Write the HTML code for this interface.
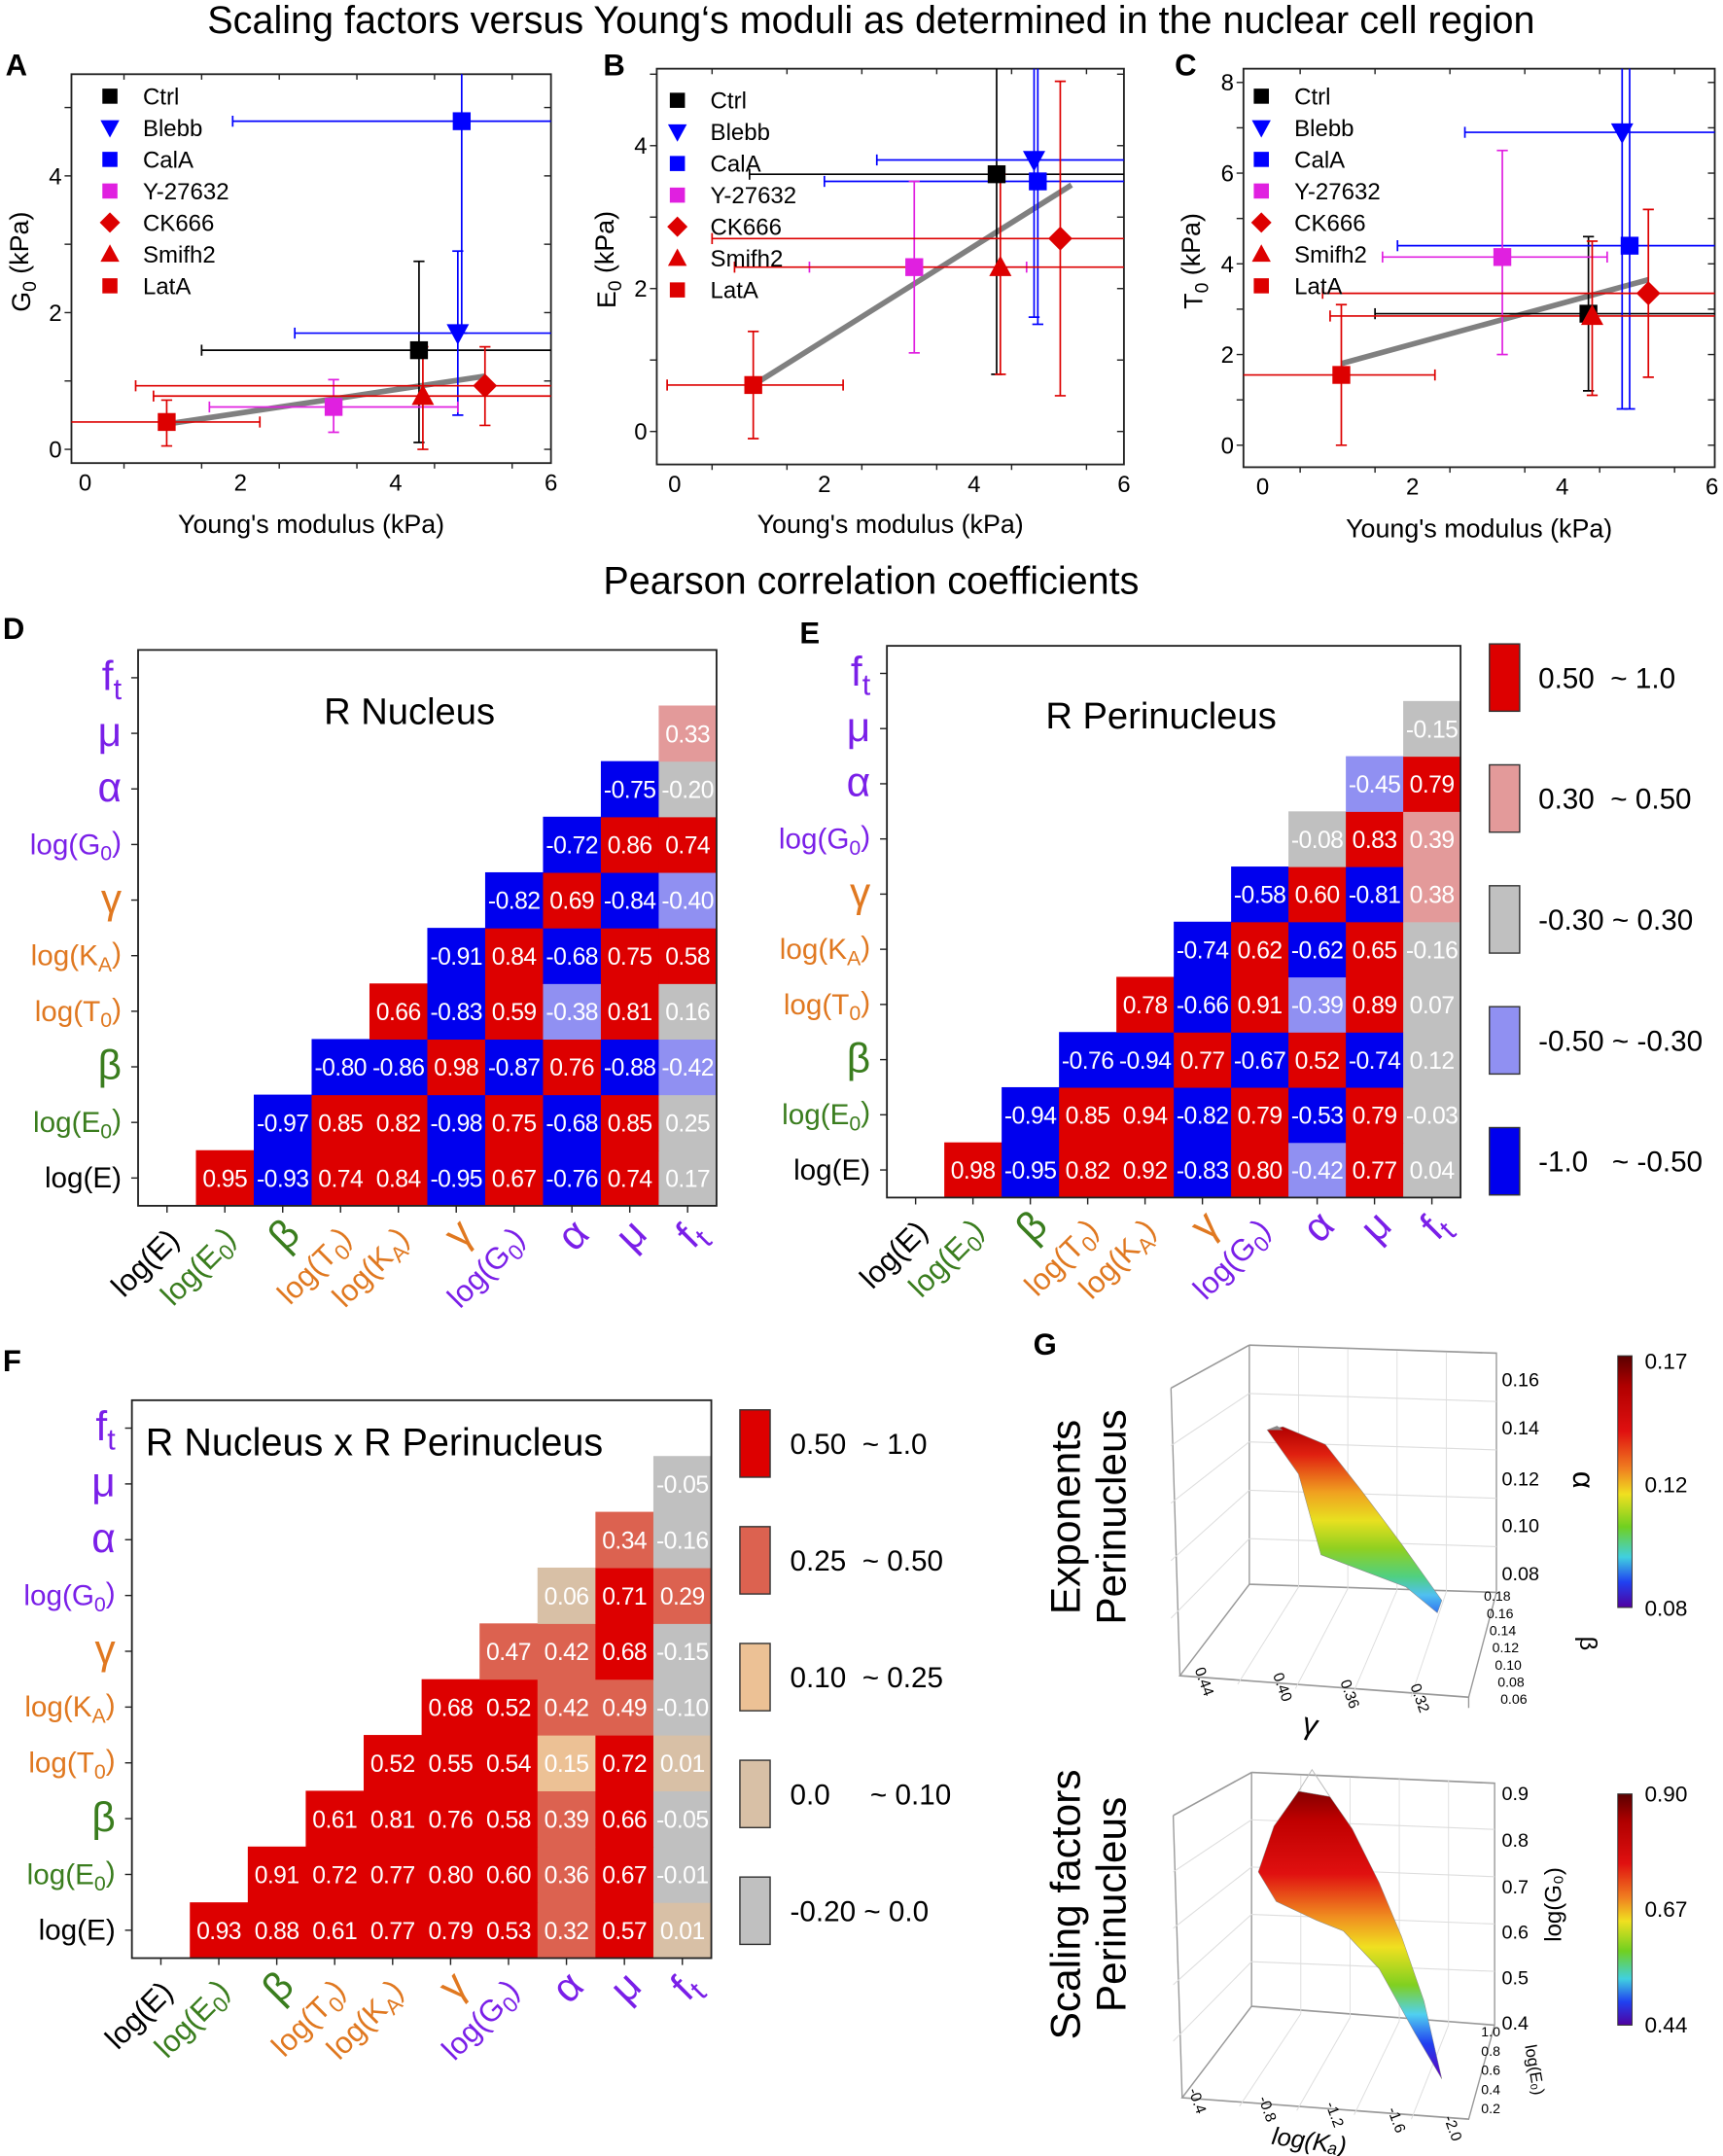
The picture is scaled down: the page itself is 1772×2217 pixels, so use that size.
<!DOCTYPE html>
<html><head><meta charset="utf-8">
<style>
html,body{margin:0;padding:0;background:#fff;}
svg{display:block;font-family:"Liberation Sans",Arial,sans-serif;}
</style></head>
<body>
<svg id="fig" xmlns="http://www.w3.org/2000/svg" width="1772" height="2217" viewBox="0 0 1254 1569" preserveAspectRatio="none">
<rect width="1254" height="1569" fill="#fff"/>
<text x="634" y="24" font-size="28" text-anchor="middle">Scaling factors versus Young‘s moduli as determined in the nuclear cell region</text>
<text x="634" y="432" font-size="28" text-anchor="middle">Pearson correlation coefficients</text>
<text x="4" y="55" font-size="22" font-weight="bold">A</text>
<text x="439" y="55" font-size="22" font-weight="bold">B</text>
<text x="855" y="55" font-size="22" font-weight="bold">C</text>
<text x="2" y="465" font-size="22" font-weight="bold">D</text>
<text x="582" y="468" font-size="22" font-weight="bold">E</text>
<text x="2" y="998" font-size="22" font-weight="bold">F</text>
<text x="752" y="986" font-size="22" font-weight="bold">G</text>
</svg>
<script>
// ---------- data: scatter panels ----------
const groups = ['Ctrl','Blebb','CalA','Y-27632','CK666','Smifh2','LatA'];
const xTicks = [0,2,4,6];
const aX   = [4.3,4.8,4.85,3.2,5.15,4.35,1.05];
const aY   = [1.45,1.7,4.8,0.62,0.93,0.78,0.4];
const aXlo = [1.5,2.7,1.9,1.6,0.65,0.88,-0.2];
const aXhi = [7,7,7,4.8,7,7,2.25];
const aYlo = [0.1,0.5,1.7,0.25,0.35,0,0.05];
const aYhi = [2.75,2.9,6,1.02,1.5,1.5,0.72];
const aFit = [1.05,0.37,5.15,1.07];
const aYTicks = [0,2,4];
const bX   = [4.3,4.8,4.85,3.2,5.15,4.35,1.05];
const bY   = [3.6,3.8,3.5,2.3,2.7,2.3,0.65];
const bXlo = [1.0,2.7,2.0,1.8,0.5,0.8,-0.1];
const bXhi = [7,7,7,4.7,7,7,2.25];
const bYlo = [0.8,1.6,1.5,1.1,0.5,0.8,-0.1];
const bYhi = [5.6,5.6,5.6,3.5,4.9,3.6,1.4];
const bFit = [1.05,0.65,5.3,3.45];
const bYTicks = [0,2,4];
const cX   = [4.35,4.8,4.9,3.2,5.15,4.4,1.05];
const cY   = [2.9,6.9,4.4,4.15,3.35,2.85,1.55];
const cXlo = [1.5,2.7,1.8,1.6,0.8,0.9,-0.3];
const cXhi = [7,7,7,4.6,7,7,2.3];
const cYlo = [1.2,0.8,0.8,2.0,1.5,1.1,0];
const cYhi = [4.6,9,9,6.5,5.2,4.5,3.1];
const cFit = [1.05,1.8,5.15,3.65];
const cYTicks = [0,2,4,6,8];

// ---------- data: correlation matrices ----------
const varLabels = ['log(E)','log(E_0)','β','log(T_0)','log(K_A)','γ','log(G_0)','α','μ','f_t'];
const dRows = [
 [0.95,-0.93,0.74,0.84,-0.95,0.67,-0.76,0.74,0.17],
 [-0.97,0.85,0.82,-0.98,0.75,-0.68,0.85,0.25],
 [-0.80,-0.86,0.98,-0.87,0.76,-0.88,-0.42],
 [0.66,-0.83,0.59,-0.38,0.81,0.16],
 [-0.91,0.84,-0.68,0.75,0.58],
 [-0.82,0.69,-0.84,-0.40],
 [-0.72,0.86,0.74],
 [-0.75,-0.20],
 [0.33]];
const eRows = [
 [0.98,-0.95,0.82,0.92,-0.83,0.80,-0.42,0.77,0.04],
 [-0.94,0.85,0.94,-0.82,0.79,-0.53,0.79,-0.03],
 [-0.76,-0.94,0.77,-0.67,0.52,-0.74,0.12],
 [0.78,-0.66,0.91,-0.39,0.89,0.07],
 [-0.74,0.62,-0.62,0.65,-0.16],
 [-0.58,0.60,-0.81,0.38],
 [-0.08,0.83,0.39],
 [-0.45,0.79],
 [-0.15]];
const fRows = [
 [0.93,0.88,0.61,0.77,0.79,0.53,0.32,0.57,0.01],
 [0.91,0.72,0.77,0.80,0.60,0.36,0.67,-0.01],
 [0.61,0.81,0.76,0.58,0.39,0.66,-0.05],
 [0.52,0.55,0.54,0.15,0.72,0.01],
 [0.68,0.52,0.42,0.49,-0.10],
 [0.47,0.42,0.68,-0.15],
 [0.06,0.71,0.29],
 [0.34,-0.16],
 [-0.05]];
const deLegend = ['0.50  ~ 1.0','0.30  ~ 0.50','-0.30 ~ 0.30','-0.50 ~ -0.30','-1.0   ~ -0.50'];
const fLegend  = ['0.50  ~ 1.0','0.25  ~ 0.50','0.10  ~ 0.25','0.0     ~ 0.10','-0.20 ~ 0.0'];

// ---------- helpers ----------
const NS='http://www.w3.org/2000/svg';
const svg=document.getElementById('fig');
function mk(tag,parent){const e=document.createElementNS(NS,tag);(parent||svg).appendChild(e);return e;}
function at(e,o){for(const k in o)e.setAttribute(k,o[k]);return e;}
function richText(e,s){
  const parts=s.split(/_(\w)/);
  parts.forEach((p,i)=>{ if(!p) return; const t=mk('tspan',e); t.textContent=p;
    if(i%2===1){at(t,{'font-size':'0.72em',dy:'0.3em'});} else if(i>1){at(t,{dy:'-0.3em'});} });
}
const gColors=['#000','#0000ff','#0000ff','#e020e0','#dd0000','#dd0000','#dd0000'];
const gShapes=['sq','tdown','sq','sq','dia','tup','sq'];
function marker(g,shape,x,y,col,s){
  let e;
  if(shape==='sq'){e=mk('rect',g);at(e,{x:x-s,y:y-s,width:2*s,height:2*s,fill:col});}
  else if(shape==='dia'){e=mk('polygon',g);at(e,{points:`${x},${y-s*1.35} ${x+s*1.35},${y} ${x},${y+s*1.35} ${x-s*1.35},${y}`,fill:col});}
  else if(shape==='tup'){e=mk('polygon',g);at(e,{points:`${x},${y-s*1.3} ${x+s*1.25},${y+s} ${x-s*1.25},${y+s}`,fill:col});}
  else {e=mk('polygon',g);at(e,{points:`${x},${y+s*1.3} ${x+s*1.25},${y-s} ${x-s*1.25},${y-s}`,fill:col});}
  return e;
}

// ---------- scatter panels ----------
function scatter(id,box,xm,ym,yTicks,X,Y,XL,XH,YL,YH,FIT,ytitle,legPos,xtY){
  const g=mk('g');
  
  
  const sx=v=>xm.a+v*xm.k, sy=v=>ym.a-v*ym.k;
  const cid='clip'+id; const cp=mk('clipPath',g); cp.setAttribute('id',cid);
  at(mk('rect',cp),{x:box[0],y:box[1],width:box[2]-box[0],height:box[3]-box[1]});
  const fr=mk('rect',g); at(fr,{x:box[0],y:box[1],width:box[2]-box[0],height:box[3]-box[1],fill:'none',stroke:'#222','stroke-width':1.3});
  
  
  for(let v=-0.5;v<=6.01;v+=1){const x=sx(v); if(x<box[0]||x>box[2])continue; const maj=Math.abs(v-Math.round(v/2)*2)<1e-6; const L=maj?6:4;
    at(mk('line',g),{x1:x,x2:x,y1:box[3],y2:box[3]+L,stroke:'#222'}); at(mk('line',g),{x1:x,x2:x,y1:box[1],y2:box[1]+L,stroke:'#222'});}
  xTicks.forEach(v=>{const t=mk('text',g);at(t,{x:sx(v),y:box[3]+20,'font-size':17,'text-anchor':'middle'});t.textContent=v;
    
    });
  const step=yTicks[1]-yTicks[0];
  for(let v=yTicks[0]-step/2;v<=yTicks[yTicks.length-1]+step;v+=step/2){const y=sy(v); if(y<box[1]||y>box[3])continue;
    at(mk('line',g),{x1:box[0]-5,x2:box[0],y1:y,y2:y,stroke:'#222'}); at(mk('line',g),{x1:box[2]-5,x2:box[2],y1:y,y2:y,stroke:'#222'});}
  yTicks.forEach(v=>{const t=mk('text',g);at(t,{x:box[0]-7,y:sy(v)+6,'font-size':17,'text-anchor':'end'});t.textContent=v;
    
    });
  const xt=mk('text',g);at(xt,{x:(box[0]+box[2])/2,y:xtY,'font-size':19,'text-anchor':'middle'});xt.textContent="Young's modulus (kPa)";
  
  
  const cy=(box[1]+box[3])/2; const yt=mk('text',g);at(yt,{x:0,y:0,'font-size':19,'text-anchor':'middle',transform:`translate(${box[0]-30},${cy-5}) rotate(-90)`});richText(yt,ytitle);
  
  
  const dg=mk('g',g); dg.setAttribute('clip-path',`url(#${cid})`);
  const fl=mk('line',dg);at(fl,{x1:sx(FIT[0]),y1:sy(FIT[1]),x2:sx(FIT[2]),y2:sy(FIT[3]),stroke:'#808080','stroke-width':4});
  
  
  groups.forEach((nm,i)=>{
    const c=gColors[i]; const px=sx(X[i]), py=sy(Y[i]);
    const eb=mk('g',dg); eb.setAttribute('stroke',c); eb.setAttribute('stroke-width',1.2);
    
    
    at(mk('line',eb),{x1:sx(XL[i]),x2:sx(XH[i]),y1:py,y2:py});
    at(mk('line',eb),{x1:px,x2:px,y1:sy(YL[i]),y2:sy(YH[i])});
    [XL[i],XH[i]].forEach(v=>at(mk('line',eb),{x1:sx(v),x2:sx(v),y1:py-4,y2:py+4}));
    [YL[i],YH[i]].forEach(v=>at(mk('line',eb),{x1:px-4,x2:px+4,y1:sy(v),y2:sy(v)}));
  });
  groups.forEach((nm,i)=>{
    const m=marker(dg,gShapes[i],sx(X[i]),sy(Y[i]),gColors[i],6.5);
    
    
  });
  groups.forEach((nm,i)=>{
    const ly=legPos[1]+i*23;
    const lg=mk('g',g);
    
    
    marker(lg,gShapes[i],legPos[0],ly,gColors[i],5.5);
    const t=mk('text',lg);at(t,{x:legPos[0]+24,y:ly+6,'font-size':17});t.textContent=nm;
  });
}
scatter('a',[52,54,401,337],{a:62,k:56.5},{a:327,k:49.75},aYTicks,aX,aY,aXlo,aXhi,aYlo,aYhi,aFit,'G_0 (kPa)',[80,70],388);
scatter('b',[478,50,818,338],{a:491,k:54.5},{a:314,k:52},bYTicks,bX,bY,bXlo,bXhi,bYlo,bYhi,bFit,'E_0 (kPa)',[493,73],388);
scatter('c',[905,50,1248,340],{a:919,k:54.5},{a:324,k:33},cYTicks,cX,cY,cXlo,cXhi,cYlo,cYhi,cFit,'T_0 (kPa)',[918,70],391);

// ---------- heatmaps ----------
const labColors=['#000','#3a7d1e','#3a7d1e','#e07820','#e07820','#e07820','#7a1fe8','#7a1fe8','#7a1fe8','#7a1fe8'];
const greek={'β':1,'γ':1,'α':1,'μ':1,'f_t':1};
function colDE(v){ if(v>=0.5)return '#dd0000'; if(v>=0.3)return '#e39a9a'; if(v>-0.3)return '#c0c0c0'; if(v>-0.5)return '#9090f2'; return '#0000ee'; }
function colF(v){ if(v>=0.5)return '#dd0000'; if(v>=0.25)return '#dc6250'; if(v>=0.1)return '#ecc195'; if(v>=0)return '#d8c0a6'; return '#c0c0c0'; }
function heat(id,box,rows,colfn,title,tpos,tsize){
  const g=mk('g');
  
  
  const cw=(box[2]-box[0])/10, rh=(box[3]-box[1])/10;
  const cx=c=>box[0]+cw*(c+0.5), cy=r=>box[3]-rh*(r+0.5);
  rows.forEach((vals,r)=>vals.forEach((v,j)=>{
    const c=r+1+j;
    const cell=mk('rect',g);at(cell,{x:cx(c)-cw/2,y:cy(r)-rh/2,width:cw+0.4,height:rh+0.4,fill:colfn(v)});
    
    
    const t=mk('text',g);at(t,{x:cx(c),y:cy(r)+6.5,'font-size':17.5,'text-anchor':'middle',fill:'#fff','letter-spacing':'-0.4'});
    t.textContent=v.toFixed(2);
    
    
  }));
  const fr=mk('rect',g);at(fr,{x:box[0],y:box[1],width:box[2]-box[0],height:box[3]-box[1],fill:'none',stroke:'#222','stroke-width':1.3});
  
  
  const tt=mk('text',g);at(tt,{x:tpos[0],y:tpos[1],'font-size':tsize,'text-anchor':tpos[2]});tt.textContent=title;
  
  
  varLabels.forEach((lab,i)=>{
    const isG=greek[lab];
    at(mk('line',g),{x1:box[0]-5,x2:box[0],y1:cy(i),y2:cy(i),stroke:'#222'});
    at(mk('line',g),{x1:cx(i),x2:cx(i),y1:box[3],y2:box[3]+5,stroke:'#222'});
    const yl=mk('text',g);at(yl,{x:box[0]-12,y:cy(i)+(isG?9:7),'font-size':isG?30:21,'text-anchor':'end',fill:labColors[i]});richText(yl,lab);
    
    
    const xl=mk('text',g);at(xl,{x:0,y:0,'font-size':isG?30:22,'text-anchor':'end',fill:labColors[i],transform:`translate(${cx(i)+(isG?14:10)},${box[3]+(isG?22:26)}) rotate(-45)`});richText(xl,lab);
    
    
  });
}
heat('d',[100.5,473,521.5,877.5],dRows,colDE,'R Nucleus',[298,527,'middle'],27);
heat('e',[645.5,470,1063,871.5],eRows,colDE,'R Perinucleus',[845,530,'middle'],27);
heat('f',[96,1019,517.7,1425],fRows,colF,'R Nucleus x R Perinucleus',[106,1059,'start'],28);

function legend(id,x,y0,step,labels,cols,tx){
  labels.forEach((l,i)=>{
    const g=mk('g');
    
    
    at(mk('rect',g),{x:x,y:y0+i*step,width:22,height:49,fill:cols[i],stroke:'#333','stroke-width':1});
    const t=mk('text',g);at(t,{x:tx,y:y0+i*step+32,'font-size':21,style:'white-space:pre'});t.textContent=l;
  });
}
legend('e',1084,468.6,88,deLegend,['#dd0000','#e39a9a','#c0c0c0','#9090f2','#0000ee'],1119.6);
legend('f',538.5,1026,85,fLegend,['#dd0000','#dc6250','#ecc195','#d8c0a6','#c0c0c0'],575);
</script>
<script>
// ---------- panel G (3D surfaces, approximate) ----------
(function(){
  const svg=document.getElementById('fig'); const NS='http://www.w3.org/2000/svg';
  function mk(tag,p){const e=document.createElementNS(NS,tag);(p||svg).appendChild(e);return e;}
  function at(e,o){for(const k in o)e.setAttribute(k,o[k]);return e;}
  const defs=mk('defs');
  function grad(id,stops,y1,y2){const g=mk('linearGradient',defs);at(g,{id:id,x1:0,y1:y1,x2:0,y2:y2,gradientUnits:'userSpaceOnUse'});
    stops.forEach(s=>at(mk('stop',g),{offset:s[0],'stop-color':s[1]}));}
  const rainbow=[[0,'#5a0000'],[0.12,'#b00000'],[0.3,'#e01010'],[0.45,'#f08020'],[0.55,'#f0e020'],[0.68,'#70d020'],[0.8,'#40d0e0'],[0.9,'#2040f0'],[1,'#5000a0']];
  grad('gsurf1',[[0,'#b00000'],[0.15,'#e02010'],[0.35,'#f0a020'],[0.5,'#e8e020'],[0.65,'#90d020'],[0.8,'#50d080'],[0.9,'#50c0f0'],[1,'#3070f0']],212,560);
  grad('gsurf2',[[0,'#7a0000'],[0.12,'#c00000'],[0.3,'#e01010'],[0.45,'#f09020'],[0.55,'#f0e020'],[0.68,'#80d020'],[0.78,'#50d0f0'],[0.88,'#2040f0'],[1,'#6000c0']],880,1425);
  grad('cb1',rainbow,80,548); grad('cb2',rainbow,895,1325);
  const g=mk('g'); g.setAttribute('transform','translate(743.1,955.4) scale(0.3258,0.3912)');
  
  
  function ln(pts,col,w){at(mk('polyline',g),{points:pts,fill:'none',stroke:col||'#999','stroke-width':w||3});}
  ln('510,60 1062,75 1062,520');ln('510,60 510,505 1062,520');ln('510,505 355,675 1000,715 1062,520');ln('335,140 510,60');ln('335,140 355,675');ln('1000,715 1000,735');
  for(let i=1;i<5;i++){const x=510+i*110;ln(`${x},${62+i*3} ${x},${507+i*3}`,'#ddd',2);ln(`${x},${507+i*3} ${355+i*129},${683+i*8}`,'#ddd',2);}
  for(let i=1;i<5;i++){const y=60+i*90;ln(`510,${y} 1062,${y+15}`,'#ddd',2);ln(`335,${140+i*107} 510,${y}`,'#ddd',2);}
  ln('515,855 1058,875 1058,1325');ln('515,855 515,1290 1058,1325');ln('515,1290 360,1460 1000,1500 1058,1325');ln('340,935 515,855');ln('340,935 360,1460');
  for(let i=1;i<5;i++){const x=515+i*110;ln(`${x},${858+i*3} ${x},${1297+i*7}`,'#ddd',2);ln(`${x},${1297+i*7} ${360+i*128},${1468+i*8}`,'#ddd',2);}
  for(let i=1;i<5;i++){const y=855+i*88;ln(`515,${y} 1058,${y+18}`,'#ddd',2);ln(`340,${935+i*105} 515,${y}`,'#ddd',2);}
  const s1=mk('polygon',g);at(s1,{points:'550,218 585,212 680,245 760,330 850,430 940,535 930,558 860,510 670,450 620,300',fill:'url(#gsurf1)',stroke:'#888','stroke-width':1});
  
  
  at(mk('polygon',g),{points:'548,218 572,210 585,218',fill:'#888'});
  const s2=mk('polygon',g);at(s2,{points:'530,1040 565,955 620,890 690,900 740,960 800,1060 850,1160 900,1280 940,1425 880,1340 800,1220 720,1150 660,1130 570,1095',fill:'url(#gsurf2)',stroke:'#888','stroke-width':1});
  
  
  ln('620,890 650,850 690,900','#bbb',2);
  const c1=mk('rect',g);at(c1,{x:1333,y:80,width:32,height:468,fill:'url(#cb1)',stroke:'#333','stroke-width':2});
  
  
  const c2=mk('rect',g);at(c2,{x:1333,y:895,width:32,height:430,fill:'url(#cb2)',stroke:'#333','stroke-width':2});
  
  
  function tx(x,y,s,str,fs,extra,name){const t=mk('text');at(t,Object.assign({x:x,y:y,'font-size':fs},extra||{}));t.textContent=str;
    
    return t;}
  tx(0,0,0,'Exponents',30,{'text-anchor':'middle',transform:'translate(786,1104) rotate(-90)'},'g-top-title-1');
  tx(0,0,0,'Perinucleus',30,{'text-anchor':'middle',transform:'translate(819,1104) rotate(-90)'},'g-top-title-2');
  tx(0,0,0,'Scaling factors',30,{'text-anchor':'middle',transform:'translate(786,1386) rotate(-90)'},'g-bottom-title-1');
  tx(0,0,0,'Perinucleus',30,{'text-anchor':'middle',transform:'translate(819,1386) rotate(-90)'},'g-bottom-title-2');
  [['0.16',1009],['0.14',1044],['0.12',1081],['0.10',1115],['0.08',1150]].forEach(a=>tx(1093,a[1],0,a[0],14,{},'alpha-tick-label'));
  tx(0,0,0,'α',22,{'text-anchor':'middle',transform:'translate(1145,1077) rotate(90)'},'alpha-axis-title');
  ['0.18','0.16','0.14','0.12','0.10','0.08','0.06'].forEach((s,i)=>tx(1080+i*2,1165+i*12.5,0,s,10,{},'beta-tick-label'));
  tx(0,0,0,'β',18,{'text-anchor':'middle',transform:'translate(1150,1196) rotate(90)'},'beta-axis-title');
  [['0.44',873,1225],['0.40',930,1229],['0.36',979,1234],['0.32',1030,1237]].forEach(a=>tx(0,0,0,a[0],11,{'text-anchor':'middle',transform:`translate(${a[1]},${a[2]}) rotate(70)`},'gamma-tick-label'));
  tx(0,0,0,'γ',22,{'text-anchor':'middle',transform:'translate(952,1262) rotate(15)'},'gamma-axis-title');
  [['0.17',996],['0.12',1086],['0.08',1176]].forEach(a=>tx(1197,a[1],0,a[0],16,{},'colorbar-alpha-label'));
  [['0.9',1310],['0.8',1344],['0.7',1378],['0.6',1411],['0.5',1444],['0.4',1477]].forEach(a=>tx(1093,a[1],0,a[0],14,{},'logg0-tick-label'));
  tx(0,0,0,'log(G₀)',17,{'text-anchor':'middle',transform:'translate(1136,1386) rotate(-90)'},'logg0-axis-title');
  ['1.0','0.8','0.6','0.4','0.2'].forEach((s,i)=>tx(1078,1482+i*14,0,s,10,{},'loge0-tick-label'));
  tx(0,0,0,'log(E₀)',12,{'text-anchor':'middle',transform:'translate(1113,1507) rotate(80)'},'loge0-axis-title');
  [['-0.4',868,1530],['-0.8',919,1536],['-1.2',968,1540],['-1.6',1013,1544],['-2.0',1054,1550]].forEach(a=>tx(0,0,0,a[0],11,{'text-anchor':'middle',transform:`translate(${a[1]},${a[2]}) rotate(70)`},'logka-tick-label'));
  tx(0,0,0,'log(Kₐ)',18,{'text-anchor':'middle',transform:'translate(952,1564) rotate(8)','font-style':'italic'},'logka-axis-title');
  [['0.90',1311],['0.67',1395],['0.44',1479]].forEach(a=>tx(1197,a[1],0,a[0],16,{},'colorbar-logg0-label'));
})();
</script>
</body></html>
